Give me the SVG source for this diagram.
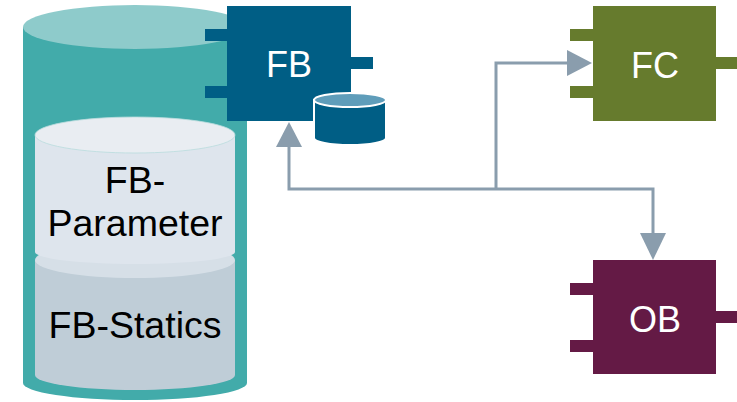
<svg xmlns="http://www.w3.org/2000/svg" width="737" height="402" viewBox="0 0 737 402">
  <defs>
    <style>
      .lbl { font-family: "Liberation Sans", Arial, sans-serif; text-anchor: middle; }
      .wht { fill: #ffffff; font-size: 36px; }
      .blk { fill: #000000; font-size: 37.5px; }
      .wire { fill: none; stroke: #8A9DAD; stroke-width: 3; }
      .head { fill: #8A9DAD; }
    </style>
  </defs>

  <!-- instance data block (large cylinder) -->
  <g id="instance-db">
    <path d="M23,27 L23,383 A112,17 0 0 0 247,383 L247,27 Z" fill="#42ABAA"/>
    <ellipse cx="135" cy="27" rx="112" ry="22" fill="#8ECBCB"/>
  </g>

  <!-- FB-Statics section -->
  <g id="fb-statics">
    <path d="M35,260 L35,375 A100,15 0 0 0 235,375 L235,260 Z" fill="#BFCDD7"/>
    <ellipse cx="135" cy="260" rx="100" ry="18" fill="#D6DFE7"/>
    <text class="lbl blk" x="135" y="338">FB-Statics</text>
  </g>

  <!-- FB-Parameter section -->
  <g id="fb-parameter">
    <path d="M35,135 L35,252 A100,12 0 0 0 235,252 L235,135 Z" fill="#DEE5ED"/>
    <ellipse cx="135" cy="135" rx="100" ry="18" fill="#E9EDF2" stroke="#B9DCDD" stroke-width="0.8"/>
    <text class="lbl blk" x="135" y="193">FB-</text>
    <text class="lbl blk" x="135" y="236">Parameter</text>
  </g>

  <!-- function block FB -->
  <g id="fb">
    <rect x="205" y="29" width="24" height="12" fill="#005E85"/>
    <rect x="205" y="86" width="24" height="12" fill="#005E85"/>
    <rect x="349" y="57" width="24" height="12" fill="#005E85"/>
    <rect x="227" y="6" width="124" height="115" fill="#005E85"/>
    <text class="lbl wht" x="289" y="77">FB</text>
  </g>

  <!-- small data block attached to FB -->
  <g id="fb-db">
    <path d="M314,100 L314,138 A36,7 0 0 0 386,138 L386,100 Z" fill="#005E85" stroke="#ffffff" stroke-width="2"/>
    <ellipse cx="350" cy="100" rx="36" ry="7" fill="#5F9DBA" stroke="#ffffff" stroke-width="2"/>
  </g>

  <!-- function FC -->
  <g id="fc">
    <rect x="570" y="29" width="25" height="12" fill="#667B2D"/>
    <rect x="570" y="86" width="25" height="12" fill="#667B2D"/>
    <rect x="714" y="57" width="23" height="12" fill="#667B2D"/>
    <rect x="593" y="6" width="123" height="115" fill="#667B2D"/>
    <text class="lbl wht" x="655" y="78">FC</text>
  </g>

  <!-- organization block OB -->
  <g id="ob">
    <rect x="570" y="283" width="25" height="12" fill="#641A45"/>
    <rect x="570" y="340" width="25" height="12" fill="#641A45"/>
    <rect x="714" y="311" width="23" height="12" fill="#641A45"/>
    <rect x="593" y="260" width="123" height="114" fill="#641A45"/>
    <text class="lbl wht" x="655" y="332">OB</text>
  </g>

  <!-- call connections -->
  <g id="connectors">
    <polyline class="wire" points="289,147 289,189 653,189 653,234"/>
    <polyline class="wire" points="496,189 496,63 567,63"/>
    <polygon class="head" points="289,122 276,147 302,147"/>
    <polygon class="head" points="592,63 567,50 567,76"/>
    <polygon class="head" points="653,260 640,233 666,233"/>
  </g>
</svg>
